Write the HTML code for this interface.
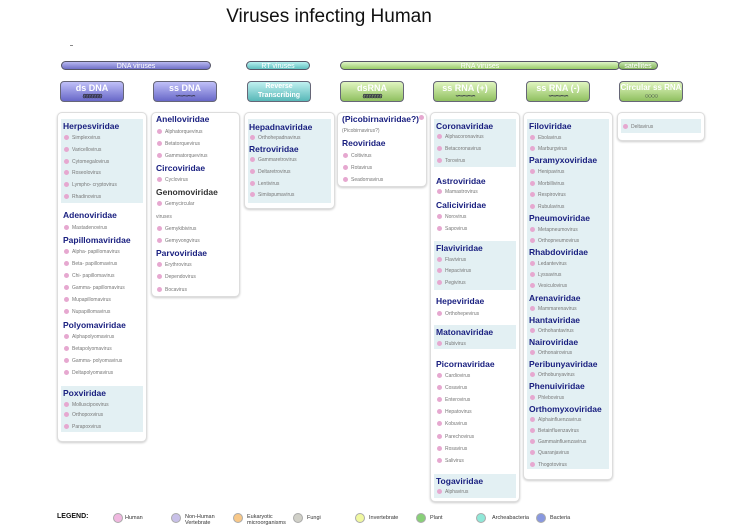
<!DOCTYPE html>
<html><head><meta charset="utf-8"><style>
*{margin:0;padding:0;box-sizing:border-box}
body{width:750px;height:531px;background:#fff;position:relative;overflow:hidden;font-family:"Liberation Sans",sans-serif}
div{position:absolute}
.t{left:0;width:658px;top:6px;text-align:center;font-size:19px;color:#111}
.bar{height:9px;border-radius:5px;font-size:7px;color:#fff;text-align:center;line-height:9px;border:1px solid #556}
.hd{height:21px;border-radius:4px;font-size:9px;color:#fff;text-align:center;line-height:12px;font-weight:bold;border:1px solid #667;width:64px}
.hd i{display:block;font-style:normal;font-size:7px;line-height:6px;letter-spacing:-1px;color:#334}
.box{background:#fff;border:1px solid #ddd;border-radius:5px;box-shadow:0 1px 2px #ccc}
.hl{background:#e3f0f3}
.f{font-weight:bold;font-size:8.5px;color:#1a2080;white-space:nowrap}
.s{font-size:5px;color:#777;white-space:nowrap;padding-left:9px}
.s:before{content:"";position:absolute;left:1px;top:0px;width:5px;height:5px;border-radius:50%;background:#e6a8d0}
.s.n{padding-left:0}
.s.n:before{display:none}
.lg{font-size:5.5px;color:#333;top:514px;line-height:6px}
.dot{width:10px;height:10px;border-radius:50%;top:513px;border:1px solid #aaa}
</style></head><body>
<div class="t">Viruses infecting Human</div>
<div style="left:70px;top:45px;width:3px;height:1px;background:#888"></div>
<div class="bar" style="left:61px;top:61px;width:150px;background:linear-gradient(#b8b8f0,#7070c8)">DNA viruses</div>
<div class="bar" style="left:246px;top:61px;width:64px;background:linear-gradient(#b8f0f0,#60c0c0)">RT viruses</div>
<div class="bar" style="left:340px;top:61px;width:280px;background:linear-gradient(#e0f5c8,#98cc68)">RNA viruses</div>
<div class="bar" style="left:618px;top:61px;width:40px;background:linear-gradient(#c8e8b0,#80b058)">satellites</div>

<div class="hd" style="left:60px;top:81px;background:linear-gradient(#c0c0f8,#6868c8)">ds DNA<i>ꞩꞩꞩꞩꞩꞩꞩ</i></div>
<div class="hd" style="left:153px;top:81px;background:linear-gradient(#c0c0f8,#6868c8)">ss DNA<i>∽∽∽∽</i></div>
<div class="hd" style="left:247px;top:81px;background:linear-gradient(#c0f0f0,#58b8b8);font-size:7px;line-height:9px">Reverse<br>Transcribing</div>
<div class="hd" style="left:340px;top:81px;background:linear-gradient(#e0f5c0,#90c060)">dsRNA<i>ꞩꞩꞩꞩꞩꞩꞩ</i></div>
<div class="hd" style="left:433px;top:81px;background:linear-gradient(#e0f5c0,#90c060)">ss RNA (+)<i>∽∽∽∽</i></div>
<div class="hd" style="left:526px;top:81px;background:linear-gradient(#e0f5c0,#90c060)">ss RNA (-)<i>∽∽∽∽</i></div>
<div class="hd" style="left:619px;top:81px;background:linear-gradient(#e0f5c0,#90c060);font-size:8px">Circular ss RNA<i>○○○○</i></div>

<div class="box" style="left:57px;top:112px;width:90px;height:330px"></div>
<div class="box" style="left:151px;top:112px;width:89px;height:185px"></div>
<div class="box" style="left:244px;top:112px;width:91px;height:97px"></div>
<div class="box" style="left:337px;top:112px;width:90px;height:75px"></div>
<div class="box" style="left:430px;top:112px;width:90px;height:390px"></div>
<div class="box" style="left:523px;top:112px;width:90px;height:368px"></div>
<div class="box" style="left:617px;top:112px;width:88px;height:29px"></div>
<div class="hl" style="left:61px;top:119px;width:82px;height:84px"></div>
<div class="hl" style="left:61px;top:386px;width:82px;height:46px"></div>
<div class="hl" style="left:248px;top:119px;width:83px;height:84px"></div>
<div class="hl" style="left:434px;top:119px;width:82px;height:48px"></div>
<div class="hl" style="left:434px;top:241px;width:82px;height:49px"></div>
<div class="hl" style="left:434px;top:325px;width:82px;height:24px"></div>
<div class="hl" style="left:434px;top:474px;width:82px;height:24px"></div>
<div class="hl" style="left:527px;top:119px;width:82px;height:350px"></div>
<div class="hl" style="left:621px;top:119px;width:80px;height:14px"></div>

<div style="left:63px;top:0">
<div class="f" style="left:0;top:121px">Herpesviridae</div>
<div class="s" style="left:0;top:135px">Simplexvirus</div>
<div class="s" style="left:0;top:147px">Varicellovirus</div>
<div class="s" style="left:0;top:159px">Cytomegalovirus</div>
<div class="s" style="left:0;top:170px">Roseolovirus</div>
<div class="s" style="left:0;top:182px">Lympho- cryptovirus</div>
<div class="s" style="left:0;top:194px">Rhadinovirus</div>
<div class="f" style="left:0;top:210px">Adenoviridae</div>
<div class="s" style="left:0;top:225px">Mastadenovirus</div>
<div class="f" style="left:0;top:235px">Papillomaviridae</div>
<div class="s" style="left:0;top:249px">Alpha- papillomavirus</div>
<div class="s" style="left:0;top:261px">Beta- papillomavirus</div>
<div class="s" style="left:0;top:273px">Chi- papillomavirus</div>
<div class="s" style="left:0;top:285px">Gamma- papillomavirus</div>
<div class="s" style="left:0;top:297px">Mupapillomavirus</div>
<div class="s" style="left:0;top:309px">Nupapillomavirus</div>
<div class="f" style="left:0;top:320px">Polyomaviridae</div>
<div class="s" style="left:0;top:334px">Alphapolyomavirus</div>
<div class="s" style="left:0;top:346px">Betapolyomavirus</div>
<div class="s" style="left:0;top:358px">Gamma- polyomavirus</div>
<div class="s" style="left:0;top:370px">Deltapolyomavirus</div>
<div class="f" style="left:0;top:388px">Poxviridae</div>
<div class="s" style="left:0;top:402px">Molluscipoxvirus</div>
<div class="s" style="left:0;top:412px">Orthopoxvirus</div>
<div class="s" style="left:0;top:424px">Parapoxvirus</div>
</div>
<div style="left:156px;top:0">
<div class="f" style="left:0;top:114px">Anelloviridae</div>
<div class="s" style="left:0;top:129px">Alphatorquevirus</div>
<div class="s" style="left:0;top:141px">Betatorquevirus</div>
<div class="s" style="left:0;top:153px">Gammatorquevirus</div>
<div class="f" style="left:0;top:163px">Circoviridae</div>
<div class="s" style="left:0;top:177px">Cyclovirus</div>
<div class="f" style="left:0;top:187px;color:#333">Genomoviridae</div>
<div class="s" style="left:0;top:201px">Gemycircular</div>
<div class="s n" style="left:0;top:214px">viruses</div>
<div class="s" style="left:0;top:226px">Gemykibivirus</div>
<div class="s" style="left:0;top:238px">Gemyvongvirus</div>
<div class="f" style="left:0;top:248px">Parvoviridae</div>
<div class="s" style="left:0;top:262px">Erythrovirus</div>
<div class="s" style="left:0;top:274px">Dependovirus</div>
<div class="s" style="left:0;top:287px">Bocavirus</div>
</div>
<div style="left:249px;top:0">
<div class="f" style="left:0;top:122px">Hepadnaviridae</div>
<div class="s" style="left:0;top:135px">Orthohepadnavirus</div>
<div class="f" style="left:0;top:144px">Retroviridae</div>
<div class="s" style="left:0;top:157px">Gammaretrovirus</div>
<div class="s" style="left:0;top:169px">Deltaretrovirus</div>
<div class="s" style="left:0;top:181px">Lentivirus</div>
<div class="s" style="left:0;top:192px">Simiispumavirus</div>
</div>
<div style="left:342px;top:0">
<div class="f" style="left:0;top:114px">(Picobirnaviridae?)</div>
<div style="left:77px;top:115px;width:5px;height:5px;border-radius:50%;background:#e6a8d0"></div>
<div class="s n" style="left:0;top:128px">(Picobirnavirus?)</div>
<div class="f" style="left:0;top:138px">Reoviridae</div>
<div class="s" style="left:0;top:153px">Coltivirus</div>
<div class="s" style="left:0;top:165px">Rotavirus</div>
<div class="s" style="left:0;top:177px">Seadornavirus</div>
</div>
<div style="left:436px;top:0">
<div class="f" style="left:0;top:121px">Coronaviridae</div>
<div class="s" style="left:0;top:134px">Alphacoronavirus</div>
<div class="s" style="left:0;top:146px">Betacoronavirus</div>
<div class="s" style="left:0;top:158px">Torovirus</div>
<div class="f" style="left:0;top:176px">Astroviridae</div>
<div class="s" style="left:0;top:189px">Mamastrovirus</div>
<div class="f" style="left:0;top:200px">Caliciviridae</div>
<div class="s" style="left:0;top:214px">Norovirus</div>
<div class="s" style="left:0;top:226px">Sapovirus</div>
<div class="f" style="left:0;top:243px">Flaviviridae</div>
<div class="s" style="left:0;top:257px">Flavivirus</div>
<div class="s" style="left:0;top:268px">Hepacivirus</div>
<div class="s" style="left:0;top:280px">Pegivirus</div>
<div class="f" style="left:0;top:296px">Hepeviridae</div>
<div class="s" style="left:0;top:311px">Orthohepevirus</div>
<div class="f" style="left:0;top:327px">Matonaviridae</div>
<div class="s" style="left:0;top:341px">Rubivirus</div>
<div class="f" style="left:0;top:359px">Picornaviridae</div>
<div class="s" style="left:0;top:373px">Cardiovirus</div>
<div class="s" style="left:0;top:385px">Cosavirus</div>
<div class="s" style="left:0;top:397px">Enterovirus</div>
<div class="s" style="left:0;top:409px">Hepatovirus</div>
<div class="s" style="left:0;top:421px">Kobuvirus</div>
<div class="s" style="left:0;top:434px">Parechovirus</div>
<div class="s" style="left:0;top:446px">Rosavirus</div>
<div class="s" style="left:0;top:458px">Salivirus</div>
<div class="f" style="left:0;top:476px">Togaviridae</div>
<div class="s" style="left:0;top:489px">Alphavirus</div>
</div>
<div style="left:529px;top:0">
<div class="f" style="left:0;top:121px">Filoviridae</div>
<div class="s" style="left:0;top:135px">Ebolavirus</div>
<div class="s" style="left:0;top:146px">Marburgvirus</div>
<div class="f" style="left:0;top:155px">Paramyxoviridae</div>
<div class="s" style="left:0;top:169px">Henipavirus</div>
<div class="s" style="left:0;top:181px">Morbillivirus</div>
<div class="s" style="left:0;top:192px">Respirovirus</div>
<div class="s" style="left:0;top:204px">Rubulavirus</div>
<div class="f" style="left:0;top:213px">Pneumoviridae</div>
<div class="s" style="left:0;top:227px">Metapneumovirus</div>
<div class="s" style="left:0;top:238px">Orthopneumovirus</div>
<div class="f" style="left:0;top:247px">Rhabdoviridae</div>
<div class="s" style="left:0;top:261px">Ledantevirus</div>
<div class="s" style="left:0;top:272px">Lyssavirus</div>
<div class="s" style="left:0;top:283px">Vesiculovirus</div>
<div class="f" style="left:0;top:293px">Arenaviridae</div>
<div class="s" style="left:0;top:306px">Mammarenavirus</div>
<div class="f" style="left:0;top:315px">Hantaviridae</div>
<div class="s" style="left:0;top:328px">Orthohantavirus</div>
<div class="f" style="left:0;top:337px">Nairoviridae</div>
<div class="s" style="left:0;top:350px">Orthonairovirus</div>
<div class="f" style="left:0;top:359px">Peribunyaviridae</div>
<div class="s" style="left:0;top:372px">Orthobunyavirus</div>
<div class="f" style="left:0;top:381px">Phenuiviridae</div>
<div class="s" style="left:0;top:395px">Phlebovirus</div>
<div class="f" style="left:0;top:404px">Orthomyxoviridae</div>
<div class="s" style="left:0;top:417px">Alphainfluenzavirus</div>
<div class="s" style="left:0;top:428px">Betainfluenzavirus</div>
<div class="s" style="left:0;top:439px">Gammainfluenzavirus</div>
<div class="s" style="left:0;top:450px">Quaranjavirus</div>
<div class="s" style="left:0;top:462px">Thogotovirus</div>
</div>
<div class="s" style="left:622px;top:124px">Deltavirus</div>

<div style="left:57px;top:513px;font-size:7px;font-weight:bold;color:#111">LEGEND:</div>
<div class="dot" style="left:113px;background:#f0b8e0"></div><div class="lg" style="left:125px;top:515px">Human</div>
<div class="dot" style="left:171px;background:#c8c0e8"></div><div class="lg" style="left:185px">Non-Human<br>Vertebrate</div>
<div class="dot" style="left:233px;background:#f8c888"></div><div class="lg" style="left:247px">Eukaryotic<br>microorganisms</div>
<div class="dot" style="left:293px;background:#d0d0c8"></div><div class="lg" style="left:307px;top:515px">Fungi</div>
<div class="dot" style="left:355px;background:#f0f8a0"></div><div class="lg" style="left:369px;top:515px">Invertebrate</div>
<div class="dot" style="left:416px;background:#88d078"></div><div class="lg" style="left:430px;top:515px">Plant</div>
<div class="dot" style="left:476px;background:#90e8d8"></div><div class="lg" style="left:492px;top:515px">Archeabacteria</div>
<div class="dot" style="left:536px;background:#8898e0"></div><div class="lg" style="left:550px;top:515px">Bacteria</div>
</body></html>
